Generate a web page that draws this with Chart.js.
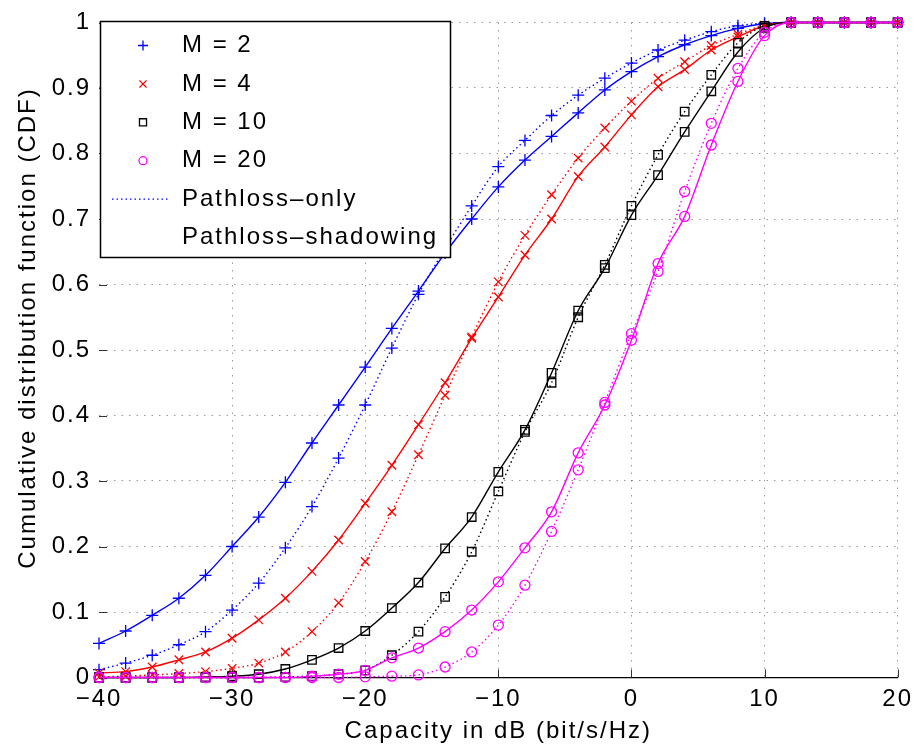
<!DOCTYPE html>
<html>
<head>
<meta charset="utf-8" />
<script src="https://cdnjs.cloudflare.com/ajax/libs/Chart.js/4.4.1/chart.umd.js"></script>
<style>
  html, body { margin: 0; padding: 0; background: #fff; }
</style>
</head>
<body>
<canvas id="cdf" width="920" height="746"></canvas>
<script>
// capacity samples (dB), every 2 dB
const capacityDb = [-40, -38, -36, -34, -32, -30, -28, -26, -24, -22, -20, -18, -16, -14, -12, -10,
  -8, -6, -4, -2, 0, 2, 4, 6, 8, 10, 12, 14, 16, 18, 20];

// CDF with pathloss + shadowing (solid) and pathloss only (dotted)
const m2Shadowing = [0.052, 0.071, 0.095, 0.121, 0.156, 0.200, 0.245, 0.298, 0.358, 0.416, 0.474, 0.533,
  0.590, 0.648, 0.700, 0.749, 0.790, 0.826, 0.862, 0.897, 0.925, 0.948, 0.966, 0.980, 0.991, 0.998, 1, 1, 1, 1, 1];
const m2Pathloss = [0.012, 0.022, 0.034, 0.050, 0.070, 0.103, 0.144, 0.198, 0.261, 0.335, 0.416, 0.503,
  0.585, 0.655, 0.720, 0.780, 0.820, 0.858, 0.889, 0.915, 0.938, 0.958, 0.973, 0.986, 0.995, 0.999, 1, 1, 1, 1, 1];
const m4Shadowing = [0.007, 0.009, 0.016, 0.027, 0.039, 0.060, 0.088, 0.121, 0.162, 0.210, 0.266, 0.324,
  0.386, 0.450, 0.518, 0.581, 0.645, 0.700, 0.765, 0.810, 0.859, 0.902, 0.928, 0.958, 0.978, 0.995, 1, 1, 1, 1, 1];
const m4Pathloss = [0.001, 0.002, 0.004, 0.006, 0.009, 0.014, 0.022, 0.039, 0.070, 0.114, 0.177, 0.253,
  0.340, 0.431, 0.520, 0.604, 0.675, 0.737, 0.793, 0.839, 0.880, 0.915, 0.940, 0.965, 0.982, 0.996, 1, 1, 1, 1, 1];
const m10Shadowing = [0, 0, 0, 0, 0.001, 0.002, 0.005, 0.013, 0.027, 0.045, 0.071, 0.106,
  0.145, 0.197, 0.245, 0.314, 0.378, 0.465, 0.560, 0.625, 0.706, 0.767, 0.833, 0.895, 0.955, 0.992, 1, 1, 1, 1, 1];
const m10Pathloss = [0, 0, 0, 0, 0, 0, 0, 0.001, 0.002, 0.005, 0.011, 0.034,
  0.070, 0.123, 0.192, 0.284, 0.375, 0.450, 0.550, 0.630, 0.720, 0.798, 0.864, 0.920, 0.969, 0.995, 1, 1, 1, 1, 1];
const m20Shadowing = [0, 0, 0, 0, 0, 0, 0, 0, 0.002, 0.005, 0.011, 0.030,
  0.045, 0.070, 0.103, 0.146, 0.198, 0.253, 0.343, 0.416, 0.515, 0.632, 0.704, 0.813, 0.910, 0.980, 1, 1, 1, 1, 1];
const m20Pathloss = [0, 0, 0, 0, 0, 0, 0, 0, 0, 0, 0.001, 0.002,
  0.004, 0.016, 0.039, 0.080, 0.141, 0.223, 0.317, 0.420, 0.525, 0.620, 0.742, 0.846, 0.930, 0.985, 1, 1, 1, 1, 1];

const xTicks = [-40, -30, -20, -10, 0, 10, 20];
const yTicks = [0, 0.1, 0.2, 0.3, 0.4, 0.5, 0.6, 0.7, 0.8, 0.9, 1];

const seriesNames = ['M = 2', 'M = 4', 'M = 10', 'M = 20'];
const lineNames = ['Pathloss\u2013only', 'Pathloss\u2013shadowing'];
const xTitle = 'Capacity in dB (bit/s/Hz)';
const yTitle = 'Cumulative distribution function (CDF)';

const shadowing = [m2Shadowing, m4Shadowing, m10Shadowing, m20Shadowing];
const pathloss = [m2Pathloss, m4Pathloss, m10Pathloss, m20Pathloss];
const colors = ['#0000ff', '#ff0000', '#000000', '#ff00ff'];
const markers = ['cross', 'crossRot', 'rect', 'circle'];
const markerSize = [6, 6, 6, 5];

const FONT = { family: '"Liberation Sans", Arial, Helvetica, sans-serif', size: 24 };
const GRID = 'rgba(0, 0, 0, 0.4)';

function points(ys) {
  return capacityDb.map((x, i) => ({ x: x, y: ys[i] }));
}

const datasets = [];
seriesNames.forEach((name, i) => {
  const common = {
    borderColor: colors[i],
    borderWidth: 1.4,
    pointStyle: markers[i],
    pointRadius: markerSize[i],
    pointBorderColor: colors[i],
    pointBackgroundColor: 'rgba(0,0,0,0)',
    pointBorderWidth: 1.3,
    showLine: true,
    cubicInterpolationMode: 'monotone',
    clip: false,
    order: 3 - i
  };
  datasets.push(Object.assign({ label: name + ' ' + lineNames[1], data: points(shadowing[i]) }, common));
  datasets.push(Object.assign({ label: name + ' ' + lineNames[0], data: points(pathloss[i]), borderDash: [1.5, 3] }, common));
});

// wider letter spacing for all canvas text
const spacedText = {
  id: 'spacedText',
  beforeUpdate(chart) { chart.ctx.letterSpacing = '2px'; },
  beforeDraw(chart) { chart.ctx.letterSpacing = '2px'; }
};

// tick marks pointing into the plot
const inwardTicks = {
  id: 'inwardTicks',
  beforeDatasetsDraw(chart) {
    const { ctx, chartArea, scales } = chart;
    ctx.save();
    ctx.strokeStyle = '#333';
    ctx.lineWidth = 1;
    ctx.beginPath();
    xTicks.forEach(v => {
      const px = Math.round(scales.x.getPixelForValue(v)) + 0.5;
      ctx.moveTo(px, chartArea.bottom);
      ctx.lineTo(px, chartArea.bottom - 8);
    });
    yTicks.forEach(v => {
      const py = Math.round(scales.y.getPixelForValue(v)) + 0.5;
      ctx.moveTo(chartArea.left, py);
      ctx.lineTo(chartArea.left + 8, py);
    });
    ctx.stroke();
    ctx.restore();
  }
};

// rotated y axis title, sitting a little above the plot centre
const yAxisTitle = {
  id: 'yAxisTitle',
  afterDraw(chart) {
    const ctx = chart.ctx;
    ctx.save();
    ctx.translate(28, 328);
    ctx.rotate(-Math.PI / 2);
    ctx.font = FONT.size + 'px ' + FONT.family;
    ctx.fillStyle = '#000';
    ctx.textAlign = 'center';
    ctx.textBaseline = 'middle';
    ctx.fillText(yTitle, 0, 0);
    ctx.restore();
  }
};

// boxed legend in the upper left corner
const legendBox = {
  id: 'legendBox',
  afterDatasetsDraw(chart) {
    const ctx = chart.ctx;
    const left = 100.5, top = 21.5, width = 350, height = 236;
    const rowY = i => top + 24 + i * 38.4;
    ctx.save();
    ctx.fillStyle = '#fff';
    ctx.fillRect(left, top, width, height);
    ctx.strokeStyle = '#000';
    ctx.lineWidth = 1.5;
    ctx.strokeRect(left, top, width, height);

    ctx.font = FONT.size + 'px ' + FONT.family;
    ctx.textBaseline = 'middle';
    seriesNames.forEach((name, i) => {
      ctx.fillStyle = 'rgba(0,0,0,0)';
      ctx.strokeStyle = colors[i];
      ctx.lineWidth = 1.3;
      Chart.helpers.drawPoint(ctx, { pointStyle: markers[i], radius: markerSize[i] - 1, borderWidth: 1.3, rotation: 0 }, 143, rowY(i));
      ctx.fillStyle = '#000';
      ctx.fillText(name, 182, rowY(i));
    });

    ctx.strokeStyle = colors[0];
    ctx.lineWidth = 1.4;
    ctx.setLineDash([1.5, 3]);
    ctx.beginPath();
    ctx.moveTo(112, rowY(4));
    ctx.lineTo(168, rowY(4));
    ctx.stroke();
    ctx.setLineDash([]);

    ctx.fillStyle = '#000';
    ctx.fillText(lineNames[0], 182, rowY(4));
    ctx.fillText(lineNames[1], 182, rowY(5));
    ctx.restore();
  }
};

new Chart(document.getElementById('cdf'), {
  type: 'scatter',
  data: { datasets: datasets },
  options: {
    responsive: false,
    animation: false,
    events: [],
    layout: { padding: { left: 0, right: 20, top: 22.5, bottom: 0 } },
    plugins: { legend: { display: false }, tooltip: { enabled: false } },
    scales: {
      x: {
        type: 'linear',
        min: -40,
        max: 20,
        afterBuildTicks: axis => { axis.ticks = xTicks.map(v => ({ value: v })); },
        afterFit: axis => { axis.height = 68.5; },
        ticks: {
          font: FONT,
          color: '#000',
          padding: 7,
          maxRotation: 0,
          callback: v => String(v).replace('-', '\u2212')
        },
        grid: {
          drawTicks: false,
          lineWidth: 1,
          color: c => (c.tick && c.tick.value === -40 ? 'rgba(0,0,0,0)' : GRID)
        },
        border: { display: true, color: '#000', width: 1.2, dash: [1.5, 6] },
        title: {
          display: true,
          text: xTitle,
          font: FONT,
          color: '#000',
          padding: { top: 3, bottom: 0 }
        }
      },
      y: {
        type: 'linear',
        min: 0,
        max: 1,
        afterBuildTicks: axis => { axis.ticks = yTicks.map(v => ({ value: v })); },
        afterFit: axis => { axis.width = 99; },
        ticks: {
          font: FONT,
          color: '#000',
          padding: 8,
          callback: v => String(Number(v.toFixed(1)))
        },
        grid: { drawTicks: false, lineWidth: 1, color: GRID },
        border: { display: false, dash: [1.5, 6] }
      }
    }
  },
  plugins: [spacedText, inwardTicks, legendBox, yAxisTitle]
});
</script>
</body>
</html>
